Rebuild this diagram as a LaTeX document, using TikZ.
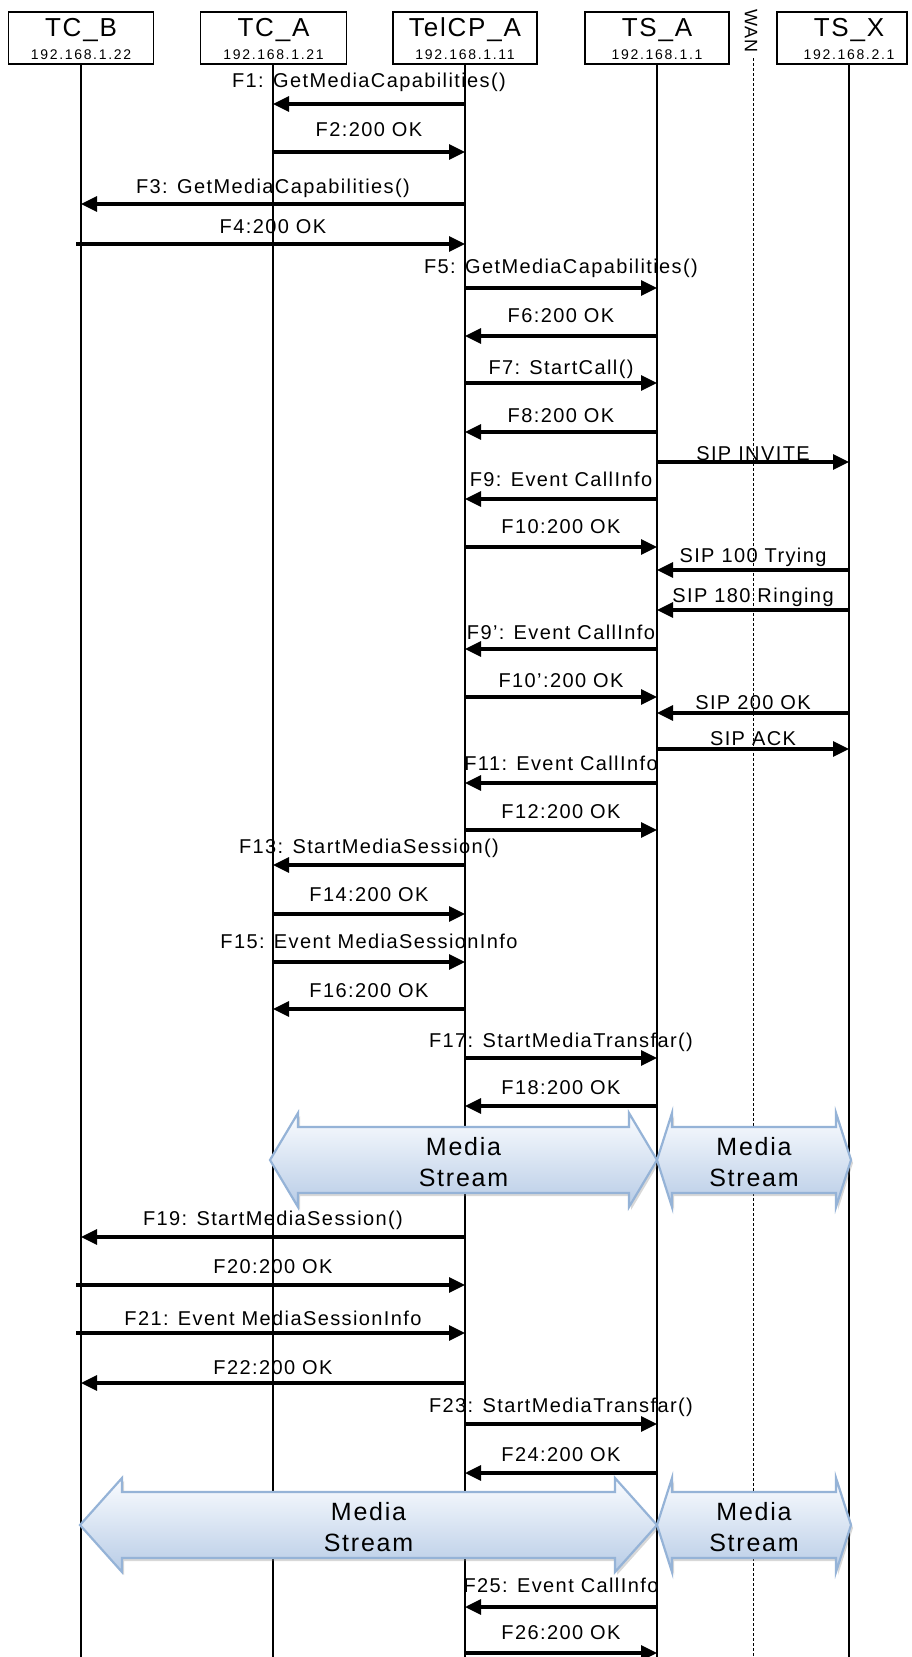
\documentclass[tikz,border=0pt]{standalone}
\usepackage{fontspec}
\setmainfont{Liberation Sans}
\newfontfamily\msgfont{Liberation Sans}[LetterSpace=7]
\newfontfamily\ttlfont{Liberation Sans}[LetterSpace=7]
\newfontfamily\ipfnt{Liberation Sans}[LetterSpace=12]
\newfontfamily\msfont{Liberation Sans}[LetterSpace=7]
\usetikzlibrary{arrows.meta,shadows}
\definecolor{msborder}{RGB}{149,179,215}
\definecolor{msbottom}{RGB}{184,204,230}
\definecolor{mstop}{RGB}{250,252,255}
\tikzset{
 hbox/.style={draw=black, line width=1.6pt, minimum height=52pt, inner sep=0pt, fill=white},
 ttl/.style={font=\ttlfont\fontsize{26}{30}\selectfont, inner sep=0pt, anchor=base},
 ipl/.style={font=\ipfnt\fontsize{14}{16}\selectfont, inner sep=0pt, anchor=base},
 life/.style={line width=1.6pt},
 wanline/.style={line width=1pt, dash pattern=on 3pt off 2pt},
 msgline/.style={line width=3.2pt, -{Triangle[length=16pt,width=15pt]}},
 lbl/.style={font=\msgfont\fontsize{20}{24}\selectfont, inner sep=0pt, anchor=base},
 wanlbl/.style={font=\msgfont\fontsize{18}{20}\selectfont, inner sep=0pt, rotate=-90},
 msarrow/.style={draw=msborder, line width=2.2pt, top color=mstop, bottom color=msbottom, line join=miter,
   drop shadow={shadow xshift=2pt, shadow yshift=-3pt, opacity=0.3}},
 mstext/.style={font=\msfont\fontsize{25}{31}\selectfont, align=center, inner sep=0pt},
}
% name, from, to, arrow y, label offset, text
\newcommand{\sqmsg}[7][]{\draw[msgline,#1] (#3 |- 0,#5) -- node[lbl, yshift=#6pt] (#2) {#7} (#4 |- 0,#5);}
% name, xL, xR, yc, head length
\newcommand{\mediastream}[5]{%
 \path[msarrow] (#2,#4) -- (#2+#5,#4-47) -- (#2+#5,#4-33) -- (#3-#5,#4-33) -- (#3-#5,#4-47) -- (#3,#4)
   -- (#3-#5,#4+47) -- (#3-#5,#4+33) -- (#2+#5,#4+33) -- (#2+#5,#4+47) -- cycle;
 \node[mstext] (#1) at ({(#2+#3)/2},#4+2) {Media\\Stream};}
\begin{document}
\begin{tikzpicture}[x=1pt,y=-1pt]
\fill[white] (0,0) rectangle (911,1657);
\useasboundingbox (0,0) rectangle (911,1657);
% lifeline anchors
\coordinate (lB) at (81,64);
\coordinate (lA) at (273,64);
\coordinate (lT) at (465,64);
\coordinate (lS) at (657,64);
\coordinate (lX) at (849,64);
\coordinate (lW) at (753,58);
% lifelines
\foreach \c in {lB,lA,lT,lS,lX} {\draw[life] (\c) -- (\c |- 0,1657);}
\draw[wanline] (lW) -- (lW |- 0,1657);
% header boxes
\node[hbox, minimum width=145pt] (tcbBox) at (81,38) {};
\node[hbox, minimum width=146pt] (tcaBox) at (273.5,38) {};
\node[hbox, minimum width=144pt] (telBox) at (465,38) {};
\node[hbox, minimum width=144pt] (tsaBox) at (657,38) {};
\node[hbox, minimum width=130pt] (tsxBox) at (842,38) {};
\node[ttl] (tcbT) at (81,36) {TC\_B};
\node[ipl] (tcbI) at (81,59) {192.168.1.22};
\node[ttl] (tcaT) at (273.5,36) {TC\_A};
\node[ipl] (tcaI) at (273.5,59) {192.168.1.21};
\node[ttl] (telT) at (465,36) {TelCP\_A};
\node[ipl] (telI) at (465,59) {192.168.1.11};
\node[ttl] (tsaT) at (657,36) {TS\_A};
\node[ipl] (tsaI) at (657,59) {192.168.1.1};
\node[ttl] (tsxT) at (849,36) {TS\_X};
\node[ipl] (tsxI) at (849,59) {192.168.2.1};
\node[wanlbl] (wan) at (751,31) {WAN};
% messages
\sqmsg{F1}{lT}{lA}{104}{17}{F1: GetMediaCapabilities()}
\sqmsg{F2}{lA}{lT}{152}{16}{F2:200 OK}
\sqmsg{F3}{lT}{lB}{204}{11}{F3: GetMediaCapabilities()}
\sqmsg[shorten <=-5pt]{F4}{lB}{lT}{244}{11}{F4:200 OK}
\sqmsg{F5}{lT}{lS}{288}{15}{F5: GetMediaCapabilities()}
\sqmsg{F6}{lS}{lT}{336}{14}{F6:200 OK}
\sqmsg{F7}{lT}{lS}{383}{9}{F7: StartCall()}
\sqmsg{F8}{lS}{lT}{432}{10}{F8:200 OK}
\sqmsg{SIPinv}{lS}{lX}{462}{2}{SIP INVITE}
\sqmsg{F9}{lS}{lT}{499}{13}{F9: Event CallInfo}
\sqmsg{F10}{lT}{lS}{547}{14}{F10:200 OK}
\sqmsg{SIPtry}{lX}{lS}{570}{8}{SIP 100 Trying}
\sqmsg{SIPring}{lX}{lS}{610}{8}{SIP 180 Ringing}
\sqmsg{F9p}{lS}{lT}{649}{10}{F9’: Event CallInfo}
\sqmsg{F10p}{lT}{lS}{697}{10}{F10’:200 OK}
\sqmsg{SIPok}{lX}{lS}{713}{4}{SIP 200 OK}
\sqmsg{SIPack}{lS}{lX}{749}{4}{SIP ACK}
\sqmsg{F11}{lS}{lT}{783}{13}{F11: Event CallInfo}
\sqmsg{F12}{lT}{lS}{830}{12}{F12:200 OK}
\sqmsg{F13}{lT}{lA}{865}{12}{F13: StartMediaSession()}
\sqmsg{F14}{lA}{lT}{914}{13}{F14:200 OK}
\sqmsg{F15}{lA}{lT}{962}{14}{F15: Event MediaSessionInfo}
\sqmsg{F16}{lT}{lA}{1009}{12}{F16:200 OK}
\sqmsg{F17}{lT}{lS}{1058}{11}{F17: StartMediaTransfar()}
\sqmsg{F18}{lS}{lT}{1106}{12}{F18:200 OK}
\mediastream{ms1}{270}{657}{1160}{28}
\mediastream{ms2}{657}{851}{1160}{15}
\sqmsg{F19}{lT}{lB}{1237}{12}{F19: StartMediaSession()}
\sqmsg[shorten <=-5pt]{F20}{lB}{lT}{1285}{12}{F20:200 OK}
\sqmsg[shorten <=-5pt]{F21}{lB}{lT}{1333}{8}{F21: Event MediaSessionInfo}
\sqmsg{F22}{lT}{lB}{1383}{9}{F22:200 OK}
\sqmsg{F23}{lT}{lS}{1424}{12}{F23: StartMediaTransfar()}
\sqmsg{F24}{lS}{lT}{1473}{12}{F24:200 OK}
\mediastream{ms3}{80}{657}{1525}{42}
\mediastream{ms4}{657}{851}{1525}{15}
\sqmsg{F25}{lS}{lT}{1607}{15}{F25: Event CallInfo}
\sqmsg{F26}{lT}{lS}{1653}{14}{F26:200 OK}
\end{tikzpicture}
\end{document}
